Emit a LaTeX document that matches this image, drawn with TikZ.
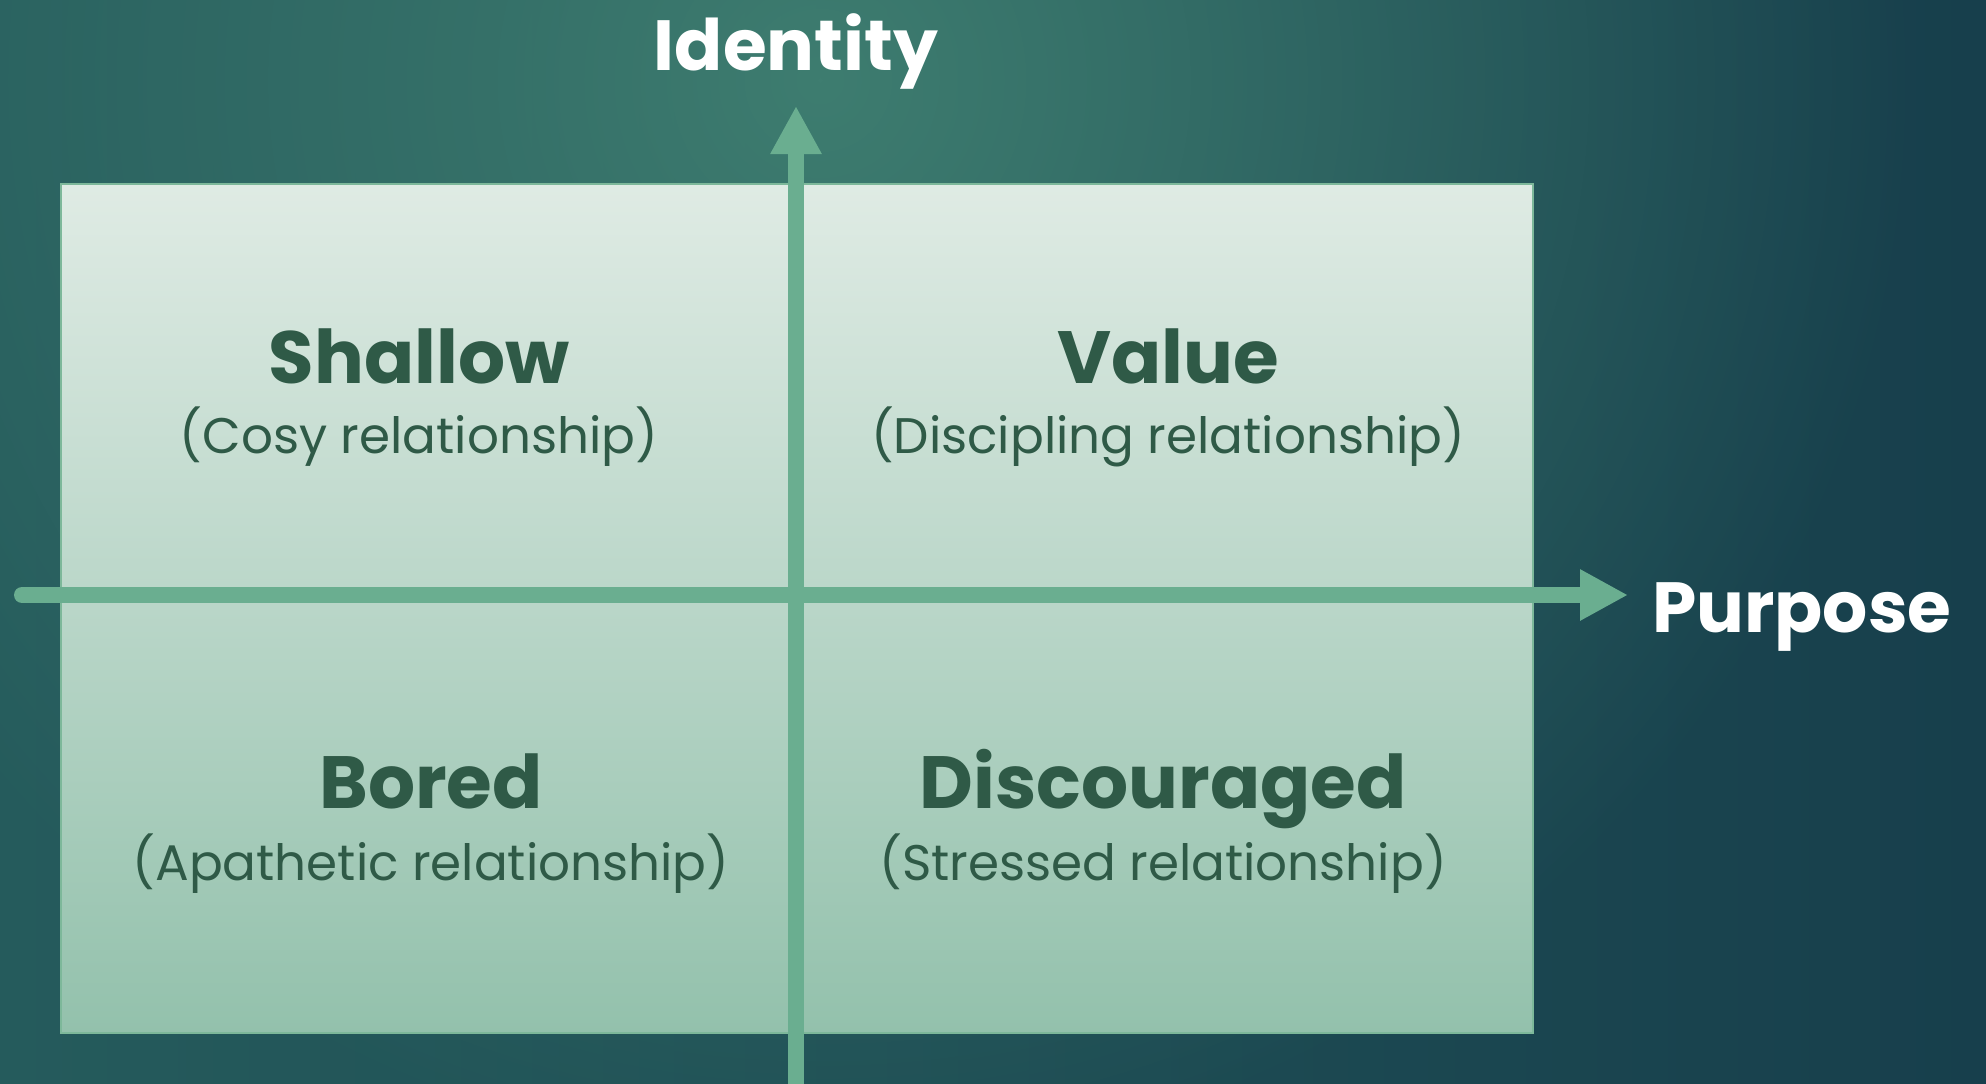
\documentclass[tikz,border=0pt]{standalone}
\usepackage{fontspec}
\setmainfont{Poppins}
\usetikzlibrary{arrows.meta,fadings}
\definecolor{bgleft}{HTML}{255B5C}
\definecolor{bgright}{HTML}{173F4C}
\definecolor{glow}{HTML}{3E7D70}
\definecolor{boxtop}{HTML}{DFEBE4}
\definecolor{boxbot}{HTML}{93C1AC}
\definecolor{boxedge}{HTML}{7DB89A}
\definecolor{axis}{HTML}{6AAE90}
\definecolor{ink}{HTML}{2F5A47}
\tikzfading[name=glowfade, inner color=transparent!0, outer color=transparent!100]
\tikzset{
  head/.style={font=\fontsize{74}{84}\selectfont\bfseries, text=ink, anchor=base, inner sep=0pt},
  sub/.style={font=\fontsize{50}{58}\selectfont, text=ink, anchor=base, inner sep=0pt},
  axlabel/.style={font=\fontsize{71}{80}\selectfont\bfseries, text=white, anchor=base, inner sep=0pt},
  axisline/.style={draw=axis, line width=16pt, line cap=round, -{Triangle[length=48pt,width=48pt]}}
}
\begin{document}
\begin{tikzpicture}[x=1pt,y=-1pt]
\useasboundingbox (0,0) rectangle (1986,1084);
\shade[left color=bgleft, right color=bgright] (0,0) rectangle (1986,1084);
\begin{scope}
\clip (0,0) rectangle (1986,1084);
\fill[glow, path fading=glowfade] (820,80) circle (1100);
\end{scope}
\shade[top color=boxtop, bottom color=boxbot, draw=boxedge, line width=2pt] (61,184) rectangle (1533,1033);
\coordinate (vbot) at (796,1092);
\coordinate (vtop) at (796,106);
\coordinate (hleft) at (22,595);
\coordinate (hright) at (1628,595);
\draw[axisline] (vbot) -- (vtop);
\draw[axisline] (hleft) -- (hright);
\node[axlabel] (identity) at (796,70) {Identity};
\node[axlabel, anchor=base west] (purpose) at (1652,632) {Purpose};
\node[head] (shallow) at (419,383) {Shallow};
\node[sub] (cosy) at (419,453) {(Cosy relationship)};
\node[head] (value) at (1168,383) {Value};
\node[sub] (disc) at (1168,453) {(Discipling relationship)};
\node[head] (bored) at (431,808) {Bored};
\node[sub] (apath) at (431,880) {(Apathetic relationship)};
\node[head] (discouraged) at (1163,808) {Discouraged};
\node[sub] (stress) at (1163,880) {(Stressed relationship)};
\end{tikzpicture}
\end{document}
